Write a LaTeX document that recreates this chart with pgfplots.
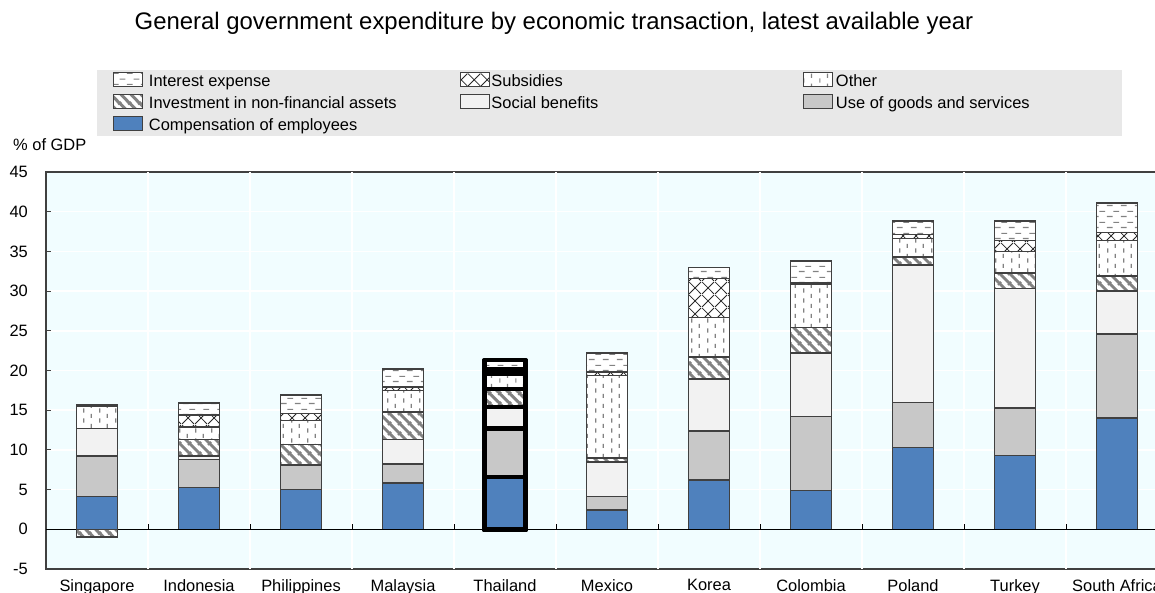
\documentclass[border=0pt]{standalone}
\usepackage{fontspec}
\setmainfont{Liberation Sans}
\usepackage{pgfplots}
\usepackage{pgfplotstable}
\pgfplotsset{compat=1.18}
\usetikzlibrary{patterns}
\definecolor{bgc}{RGB}{241,253,255}
\definecolor{legbg}{RGB}{232,232,232}
\definecolor{compc}{RGB}{79,129,189}
\definecolor{usec}{RGB}{200,200,200}
\definecolor{socc}{RGB}{242,242,242}
\definecolor{edgec}{RGB}{64,64,64}
\definecolor{patc}{RGB}{130,130,130}

\pgfdeclarepatternformonly{hdash}{\pgfqpoint{0bp}{0bp}}{\pgfqpoint{14bp}{11bp}}{\pgfqpoint{14bp}{11bp}}{%
  \pgfsetlinewidth{1.2bp}%
  \pgfpathmoveto{\pgfqpoint{1bp}{2.75bp}}\pgfpathlineto{\pgfqpoint{7bp}{2.75bp}}%
  \pgfpathmoveto{\pgfqpoint{8bp}{8.25bp}}\pgfpathlineto{\pgfqpoint{14bp}{8.25bp}}%
  \pgfusepath{stroke}}
\pgfdeclarepatternformonly{vdash}{\pgfqpoint{0bp}{0bp}}{\pgfqpoint{16bp}{10bp}}{\pgfqpoint{16bp}{10bp}}{%
  \pgfsetlinewidth{1.2bp}%
  \pgfpathmoveto{\pgfqpoint{4bp}{0.5bp}}\pgfpathlineto{\pgfqpoint{4bp}{5bp}}%
  \pgfpathmoveto{\pgfqpoint{12bp}{5.5bp}}\pgfpathlineto{\pgfqpoint{12bp}{10bp}}%
  \pgfusepath{stroke}}
\pgfdeclarepatternformonly{diag}{\pgfqpoint{0bp}{0bp}}{\pgfqpoint{10bp}{10bp}}{\pgfqpoint{10bp}{10bp}}{%
  \pgfsetlinewidth{3.2bp}%
  \pgfpathmoveto{\pgfqpoint{-1bp}{11bp}}\pgfpathlineto{\pgfqpoint{11bp}{-1bp}}%
  \pgfpathmoveto{\pgfqpoint{-1bp}{1bp}}\pgfpathlineto{\pgfqpoint{1bp}{-1bp}}%
  \pgfpathmoveto{\pgfqpoint{9bp}{11bp}}\pgfpathlineto{\pgfqpoint{11bp}{9bp}}%
  \pgfusepath{stroke}}
\pgfdeclarepatternformonly{cross}{\pgfqpoint{0bp}{0bp}}{\pgfqpoint{13bp}{13bp}}{\pgfqpoint{13bp}{13bp}}{%
  \pgfsetlinewidth{0.9bp}%
  \pgfpathmoveto{\pgfqpoint{0bp}{0bp}}\pgfpathlineto{\pgfqpoint{13bp}{13bp}}%
  \pgfpathmoveto{\pgfqpoint{0bp}{13bp}}\pgfpathlineto{\pgfqpoint{13bp}{0bp}}%
  \pgfusepath{stroke}}

\tikzset{
  compsty/.style={fill=compc},
  usesty/.style={fill=usec},
  socsty/.style={fill=socc},
  invsty/.style={preaction={fill=white}, pattern=diag, pattern color=patc},
  othsty/.style={preaction={fill=white}, pattern=vdash, pattern color=patc},
  substy/.style={preaction={fill=white}, pattern=cross, pattern color=black!85},
  intsty/.style={preaction={fill=white}, pattern=hdash, pattern color=patc},
}

\pgfplotstableread{
x comp use soc inv oth sub int
0 4.1 5.1 3.5 0.0 2.8 0.0 0.2
1 5.25 3.55 0.4 2.1 1.6 1.5 1.5
2 5.0 3.05 0.1 2.55 3.0 0.9 2.3
3 5.8 2.4 3.1 3.5 2.7 0.4 2.3
4 6.6 6.1 2.7 2.3 1.9 0.5 1.2
5 2.4 1.7 4.4 0.5 10.4 0.4 2.4
6 6.2 6.2 6.5 2.8 5.0 4.9 1.4
7 4.9 9.3 8.0 3.2 5.5 0.2 2.7
8 10.3 5.7 17.3 1.0 2.3 0.5 1.7
9 9.3 6.0 15.0 2.0 2.7 1.4 2.4
10 14.0 10.6 5.4 1.9 4.5 1.0 3.7
}\datatable

\newcommand\fs{\fontsize{16.5}{19}\selectfont}
\newcommand\rs{\rule[-4bp]{0pt}{17bp}}

\begin{document}
\begin{tikzpicture}[x=1bp,y=1bp]
\useasboundingbox (0,0) rectangle (1155,593);
\fill[legbg] (97,457) rectangle (1122,523);
\node[anchor=base, inner sep=0pt, font=\fontsize{24}{28}\selectfont] at (554,563) {General government expenditure by economic transaction, latest available year};
\node[anchor=base west, inner sep=0pt, font=\fs] at (13,442) {\% of GDP};

\begin{axis}[
  at={(46bp,24bp)}, anchor=south west,
  scale only axis, width=1122bp, height=397bp,
  xmin=-0.5, xmax=10.5, ymin=-5, ymax=45,
  enlargelimits=false,
  ybar stacked, bar width=41bp,
  axis background/.style={fill=bgc},
  axis line style={draw=edgec, line width=1.3bp},
  xtick={0,...,10},
  xticklabels={Singapore,Indonesia,Philippines,Malaysia,Thailand,Mexico,Korea,Colombia,Poland,Turkey,South Africa},
  xtick style={draw=none},
  extra x ticks={0.5,1.5,...,9.5},
  extra x tick labels={},
  extra x tick style={grid=major, tick style={draw=none}},
  ytick={-5,0,...,45},
  ymajorgrids,
  grid style={white, line width=1.5bp},
  tick align=inside, ytick pos=left, xtick pos=bottom,
  major tick length=5bp,
  ytick style={draw=edgec, line width=1bp},
  tick label style={font=\fs},
  /pgf/number format/assume math mode=true,
  yticklabel style={inner sep=0pt, anchor=east, xshift=-18bp},
  xticklabel style={inner sep=0pt, anchor=north, yshift=-10bp},
  legend columns=3, reverse legend,
  legend cell align=left,
  legend style={at={(axis description cs:0.0597,1.2519)}, anchor=north west,
    draw=none, fill=none, inner sep=0pt, outer sep=0pt,
    nodes={inner sep=0pt}, column sep=0pt, row sep=6.5bp, font=\fs},
  legend image code/.code={\draw[#1, line width=1bp] (0bp,-6bp) rectangle (29bp,8bp);},
]
\addplot[compsty, draw=edgec, line width=1.5bp] table[x=x,y=comp]{\datatable};
\addlegendentry{\makebox[6bp][l]{}\rs Compensation of employees}
\addplot[usesty, draw=edgec, line width=1.5bp] table[x=x,y=use]{\datatable};
\addlegendentry{\makebox[316bp][l]{\hspace{3bp}\rs Use of goods and services}}
\addplot[socsty, draw=edgec, line width=1.5bp] table[x=x,y=soc]{\datatable};
\addlegendentry{\makebox[313bp][l]{\hspace{1.5bp}\rs Social benefits}}
\addplot[invsty, draw=edgec, line width=1.5bp] table[x=x,y=inv]{\datatable};
\addlegendentry{\makebox[317bp][l]{\hspace{6bp}\rs Investment in non-financial assets}}
\addplot[othsty, draw=edgec, line width=1.5bp] table[x=x,y=oth]{\datatable};
\addlegendentry{\makebox[316bp][l]{\hspace{3bp}\rs Other}}
\addplot[substy, draw=edgec, line width=1.5bp] table[x=x,y=sub]{\datatable};
\addlegendentry{\makebox[313bp][l]{\hspace{1.5bp}\rs Subsidies}}
\addplot[intsty, draw=edgec, line width=1.5bp] table[x=x,y=int]{\datatable};
\addlegendentry{\makebox[317bp][l]{\hspace{6bp}\rs Interest expense}}
\end{axis}

\begin{axis}[
  at={(46bp,24bp)}, anchor=south west,
  scale only axis, width=1122bp, height=397bp,
  xmin=-0.5, xmax=10.5, ymin=-5, ymax=45,
  enlargelimits=false,
  axis x line=middle, axis y line=none,
  x axis line style={-, draw=black, line width=1bp},
  xtick={0.5,1.5,...,9.5}, xticklabels={},
  tick align=center, major tick length=5bp,
  xtick style={draw=black, line width=1bp, yshift=2.5bp},
  ytick=\empty,
]
\addplot[ybar, bar width=41bp, bar shift=0pt, invsty, draw=edgec, line width=1.5bp] coordinates {(0,-1.0)};
\addplot[ybar, bar width=41bp, bar shift=0pt, intsty, draw=black, line width=4.5bp, line join=round] coordinates {(4,21.3)};
\addplot[ybar, bar width=41bp, bar shift=0pt, substy, draw=black, line width=4.5bp, line join=round] coordinates {(4,20.1)};
\addplot[ybar, bar width=41bp, bar shift=0pt, othsty, draw=black, line width=4.5bp, line join=round] coordinates {(4,19.6)};
\addplot[ybar, bar width=41bp, bar shift=0pt, invsty, draw=black, line width=4.5bp, line join=round] coordinates {(4,17.7)};
\addplot[ybar, bar width=41bp, bar shift=0pt, socsty, draw=black, line width=4.5bp, line join=round] coordinates {(4,15.4)};
\addplot[ybar, bar width=41bp, bar shift=0pt, usesty, draw=black, line width=4.5bp, line join=round] coordinates {(4,12.7)};
\addplot[ybar, bar width=41bp, bar shift=0pt, compsty, draw=black, line width=4.5bp, line join=round] coordinates {(4,6.6)};
\end{axis}
\end{tikzpicture}
\end{document}
